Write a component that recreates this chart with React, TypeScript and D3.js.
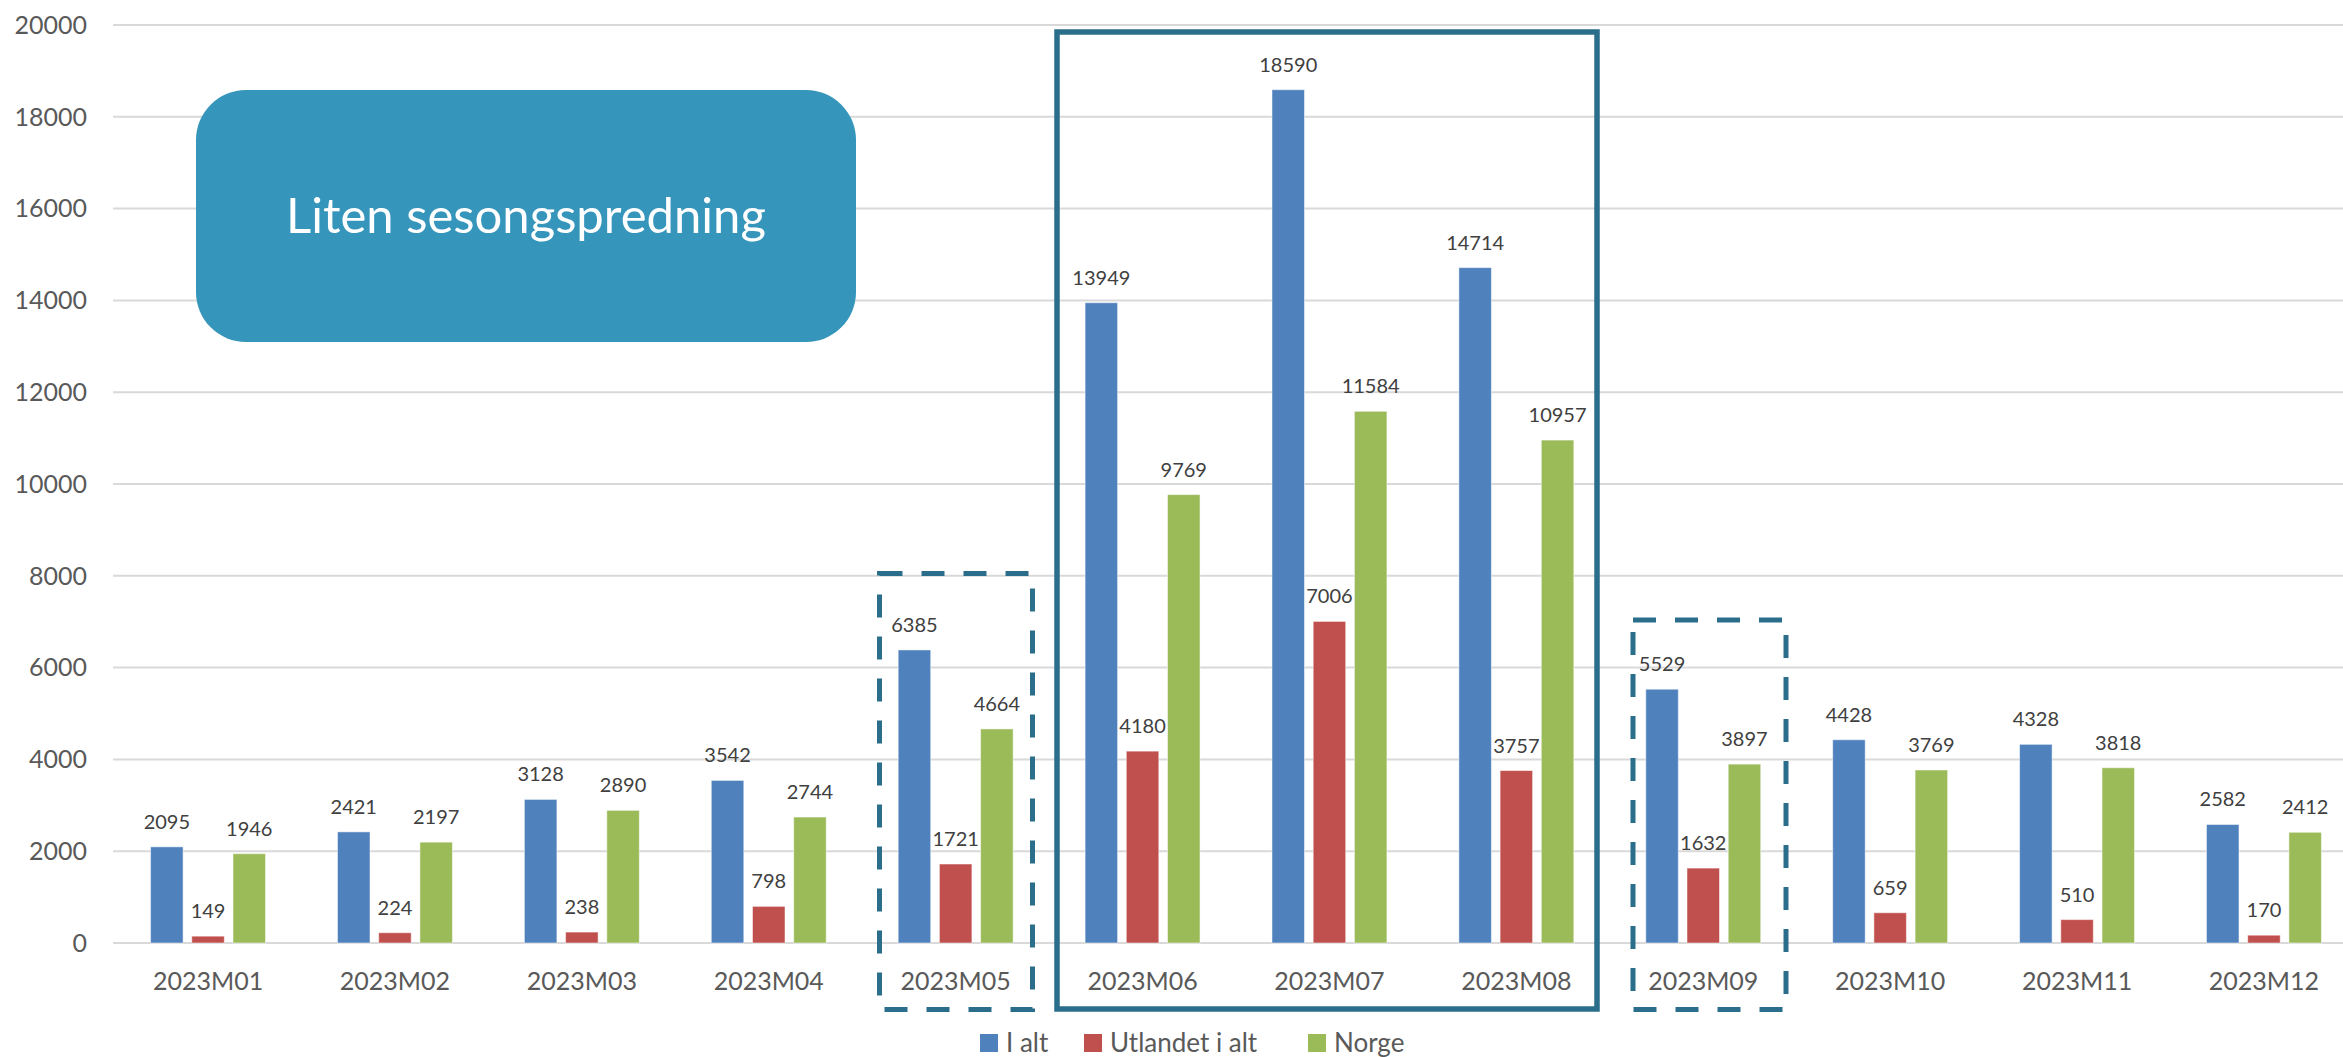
import React from "react";
import * as d3 from "d3";

const categories = ["2023M01","2023M02","2023M03","2023M04","2023M05","2023M06","2023M07","2023M08","2023M09","2023M10","2023M11","2023M12"];
const seriesNames = ["I alt", "Utlandet i alt", "Norge"];
const iAlt = [2095, 2421, 3128, 3542, 6385, 13949, 18590, 14714, 5529, 4428, 4328, 2582];
const utlandet = [149, 224, 238, 798, 1721, 4180, 7006, 3757, 1632, 659, 510, 170];
const norge = [1946, 2197, 2890, 2744, 4664, 9769, 11584, 10957, 3897, 3769, 3818, 2412];
const yTicks = [0, 2000, 4000, 6000, 8000, 10000, 12000, 14000, 16000, 18000, 20000];
const colors = ["#4F81BD", "#C0504D", "#9BBB59"];
const calloutText = "Liten sesongspredning";

const W = 2343, H = 1057;
const FONT = "Lato, 'Open Sans', sans-serif";

export default function App() {
  const series = [iAlt, utlandet, norge];
  const x = d3.scaleBand<string>().domain(categories).range([114.6, 2357.4]).padding(0);
  const y = d3.scaleLinear().domain([0, 20000]).range([943, 25]);
  const bw = x.bandwidth();
  const barW = bw * 0.174;
  const step = bw * 0.2205;
  const cx = (c: string) => (x(c) as number) + bw / 2;
  const bx = (c: string, si: number) => cx(c) + (si - 1) * step - barW / 2;

  const dashStroke = "#2a6e8b";

  return (
    <svg width={W} height={H} style={{ position: "absolute", left: 0, top: 0, display: "block", background: "#fff" }} fontFamily={FONT}>
      {yTicks.map((t) => (
        <line key={t} x1={113} x2={W} y1={y(t)} y2={y(t)} stroke="#d9d9d9" strokeWidth={2} />
      ))}
      {yTicks.map((t) => (
        <text key={"yl" + t} x={87} y={y(t)} dy="0.35em" textAnchor="end" fontSize={25} fill="#595959">{t}</text>
      ))}
      {categories.map((c, ci) => (
        <g key={c}>
          {series.map((s, si) => (
            <rect key={si} x={bx(c, si)} y={y(s[ci])} width={barW} height={y(0) - y(s[ci])} fill={colors[si]} stroke="#ffffff" strokeOpacity={0.5} strokeWidth={1} />
          ))}
          {series.map((s, si) => (
            <text key={"l" + si} x={bx(c, si) + barW / 2} y={y(s[ci]) - 18} textAnchor="middle" fontSize={20} fill="#404040">{s[ci]}</text>
          ))}
          <text x={cx(c)} y={990} textAnchor="middle" fontSize={25} fill="#595959">{c}</text>
        </g>
      ))}
      <rect x={196} y={90} width={660} height={252} rx={50} ry={50} fill="#3595BB" />
      <text x={526} y={233} textAnchor="middle" fontSize={49} fill="#ffffff">{calloutText}</text>
      <rect x={1057} y={32} width={540} height={977} fill="none" stroke={dashStroke} strokeWidth={5.5} />
      <rect x={879.5} y={573.5} width={153} height={436} fill="none" stroke={dashStroke} strokeWidth={5} strokeDasharray="23 19" />
      <rect x={1633} y={620} width={153} height={389.5} fill="none" stroke={dashStroke} strokeWidth={5} strokeDasharray="23 19" />
      {[980, 1084, 1308].map((lx, i) => (
        <g key={"lg" + i}>
          <rect x={lx} y={1034} width={18} height={18} fill={colors[i]} />
          <text x={lx + 26} y={1052} fontSize={26} fill="#595959">{seriesNames[i]}</text>
        </g>
      ))}
    </svg>
  );
}
